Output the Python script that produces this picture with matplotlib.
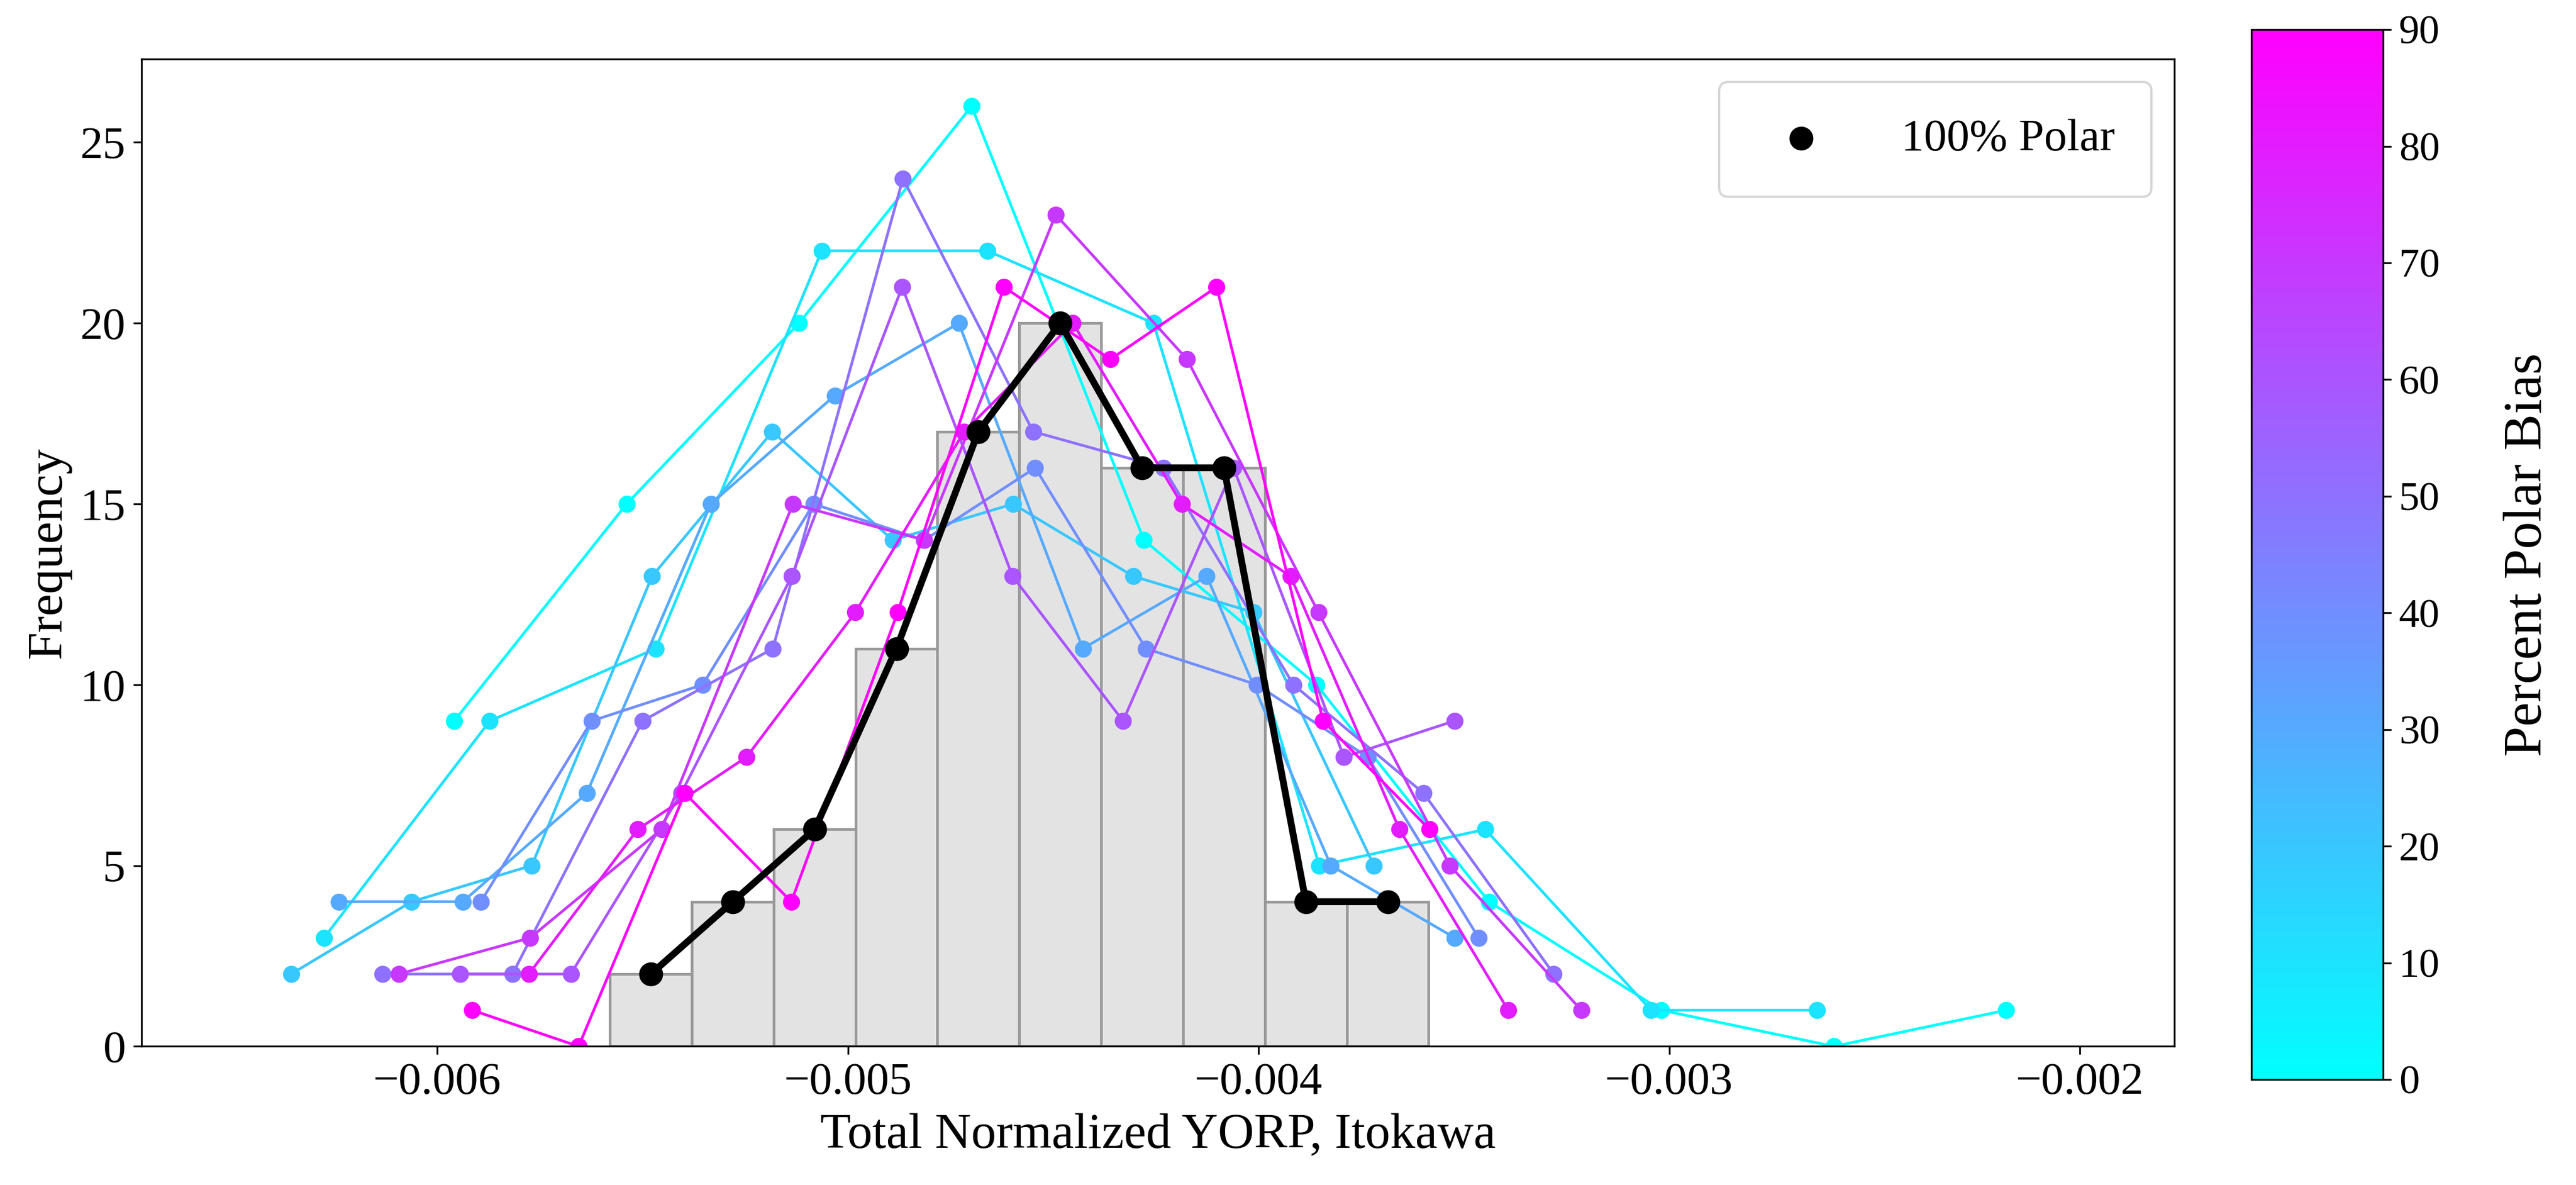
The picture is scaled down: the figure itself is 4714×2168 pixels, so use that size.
import numpy as np
import matplotlib
matplotlib.use("Agg")
import matplotlib.pyplot as plt
from matplotlib.colors import Normalize

plt.rcParams['font.family'] = ['Liberation Serif', 'DejaVu Serif']

# percent polar bias -> (first bin centre, bin step, frequencies)
BIAS = [0, 10, 20, 30, 40, 50, 60, 70, 80, 90]
X0 = [-0.005959, -0.006276, -0.006356, -0.00624, -0.005894,
      -0.006134, -0.005944, -0.006094, -0.005777, -0.005915]
STEP = [0.00042, 0.000404, 0.000293, 0.000302, 0.00027,
        0.000317, 0.000269, 0.00032, 0.000265, 0.000259]
FREQ = [
    [9, 15, 20, 26, 14, 10, 4, 1, 0, 1],
    [3, 9, 11, 22, 22, 20, 5, 6, 1, 1],
    [2, 4, 5, 13, 17, 14, 15, 13, 12, 5],
    [4, 4, 7, 15, 18, 20, 11, 13, 5, 3],
    [4, 9, 10, 15, 14, 16, 11, 10, 8, 3],
    [2, 2, 9, 11, 24, 17, 16, 10, 7, 2],
    [2, 2, 7, 13, 21, 13, 9, 16, 8, 9],
    [2, 3, 6, 15, 14, 23, 19, 12, 5, 1],
    [2, 6, 8, 12, 17, 20, 15, 13, 6, 1],
    [1, 0, 7, 4, 12, 21, 19, 21, 9, 6],
]

# 100% polar case
POLAR_X0 = -0.00548
POLAR_STEP = 0.0001994
POLAR_FREQ = [2, 4, 6, 11, 17, 20, 16, 16, 4, 4]

fig = plt.figure(figsize=(15.714, 7.227), dpi=300)
ax = fig.add_axes([0.055, 0.117, 0.789, 0.833])
cax = fig.add_axes([0.874, 0.089, 0.051, 0.886])

cmap = plt.get_cmap('cool')
norm = Normalize(vmin=0, vmax=90)

pc = POLAR_X0 + POLAR_STEP * np.arange(len(POLAR_FREQ))
ax.bar(pc, POLAR_FREQ, width=POLAR_STEP, color='#e3e3e3',
       edgecolor='#999999', linewidth=1.2, zorder=1)

for b, x0, st, f in zip(BIAS, X0, STEP, FREQ):
    xs = x0 + st * np.arange(len(f))
    ax.plot(xs, f, '-o', color=cmap(norm(b)), lw=1.2, ms=6.5, zorder=2)

ax.plot(pc, POLAR_FREQ, '-', color='black', lw=3, zorder=3)
ax.scatter(pc, POLAR_FREQ, s=90, color='black', zorder=4, label='100% Polar')

ax.set_xlim(-0.00672, -0.00177)
ax.set_ylim(0, 27.3)
ax.set_xticks([-0.006, -0.005, -0.004, -0.003, -0.002])
ax.set_xlabel("Total Normalized YORP, Itokawa", fontsize=22)
ax.set_ylabel("Frequency", fontsize=22)
ax.tick_params(labelsize=20)
ax.legend(fontsize=20, loc='upper right', borderpad=0.8, handletextpad=1.2)

sm = plt.cm.ScalarMappable(cmap=cmap, norm=norm)
cb = fig.colorbar(sm, cax=cax)
cb.set_ticks(range(0, 91, 10))
cb.ax.tick_params(labelsize=18)
cb.set_label("Percent Polar Bias", fontsize=24, labelpad=28)

fig.savefig("out.png", dpi=300)
